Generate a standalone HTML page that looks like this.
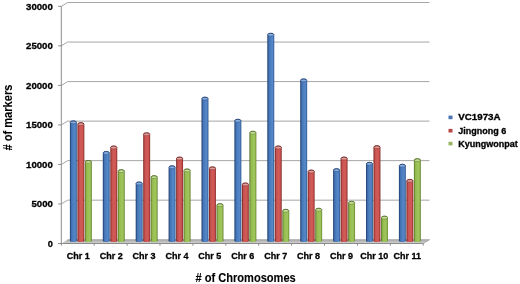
<!DOCTYPE html>
<html><head><meta charset="utf-8"><style>
html,body{margin:0;padding:0;background:#fff;}
body{width:520px;height:284px;overflow:hidden;}
svg{display:block;}
text{font-family:"Liberation Sans",Arial,sans-serif;font-weight:bold;fill:#000;stroke:#000;stroke-width:0.3px;}
.yl{font-size:9px;}
.xl{font-size:9px;}
.lg{font-size:9px;}
.tt{font-size:12px;stroke-width:0.1px;}
</style></head><body>
<svg width="520" height="284" viewBox="0 0 520 284">
<defs>
<linearGradient id="gB" x1="0" x2="1" y1="0" y2="0"><stop offset="0" stop-color="#1e3a66"/><stop offset="0.1" stop-color="#2a5088"/><stop offset="0.24" stop-color="#4474b4"/><stop offset="0.55" stop-color="#5083c4"/><stop offset="0.75" stop-color="#5687c8"/><stop offset="0.9" stop-color="#3f6ca9"/><stop offset="1" stop-color="#2c548c"/></linearGradient>
<linearGradient id="gR" x1="0" x2="1" y1="0" y2="0"><stop offset="0" stop-color="#6e2422"/><stop offset="0.1" stop-color="#983533"/><stop offset="0.24" stop-color="#c65250"/><stop offset="0.55" stop-color="#d25b58"/><stop offset="0.75" stop-color="#cd5653"/><stop offset="0.9" stop-color="#a63c39"/><stop offset="1" stop-color="#862f2d"/></linearGradient>
<linearGradient id="gG" x1="0" x2="1" y1="0" y2="0"><stop offset="0" stop-color="#4e6825"/><stop offset="0.1" stop-color="#729238"/><stop offset="0.24" stop-color="#93b950"/><stop offset="0.55" stop-color="#9dc458"/><stop offset="0.75" stop-color="#9dc55a"/><stop offset="0.9" stop-color="#80a240"/><stop offset="1" stop-color="#607c2e"/></linearGradient>
<linearGradient id="floor" x1="0" x2="0" y1="0" y2="1"><stop offset="0" stop-color="#a8a8a8"/><stop offset="1" stop-color="#d4d4d4"/></linearGradient>
</defs>
<polyline points="61.30,203.97 67.60,200.17 429.50,200.17" fill="none" stroke="#a6a6a6" stroke-width="1"/>
<polyline points="61.30,164.44 67.60,160.64 429.50,160.64" fill="none" stroke="#a6a6a6" stroke-width="1"/>
<polyline points="61.30,124.91 67.60,121.11 429.50,121.11" fill="none" stroke="#a6a6a6" stroke-width="1"/>
<polyline points="61.30,85.38 67.60,81.58 429.50,81.58" fill="none" stroke="#a6a6a6" stroke-width="1"/>
<polyline points="61.30,45.85 67.60,42.05 429.50,42.05" fill="none" stroke="#a6a6a6" stroke-width="1"/>
<polyline points="61.30,6.32 67.60,2.52 429.50,2.52" fill="none" stroke="#a6a6a6" stroke-width="1"/>
<polygon points="61.30,243.50 423.20,243.50 429.50,239.70 67.60,239.70" fill="url(#floor)"/>
<line x1="67.60" y1="239.70" x2="429.50" y2="239.70" stroke="#a0a0a0" stroke-width="0.8"/>
<line x1="61.30" y1="6.32" x2="61.30" y2="245.70" stroke="#8c8c8c" stroke-width="1"/>
<line x1="58.10" y1="243.50" x2="423.20" y2="243.50" stroke="#8c8c8c" stroke-width="1"/>
<line x1="423.20" y1="243.50" x2="429.50" y2="239.70" stroke="#a0a0a0" stroke-width="0.8"/>
<line x1="58.10" y1="243.50" x2="61.30" y2="243.50" stroke="#8c8c8c" stroke-width="1"/>
<line x1="58.10" y1="203.97" x2="61.30" y2="203.97" stroke="#8c8c8c" stroke-width="1"/>
<line x1="58.10" y1="164.44" x2="61.30" y2="164.44" stroke="#8c8c8c" stroke-width="1"/>
<line x1="58.10" y1="124.91" x2="61.30" y2="124.91" stroke="#8c8c8c" stroke-width="1"/>
<line x1="58.10" y1="85.38" x2="61.30" y2="85.38" stroke="#8c8c8c" stroke-width="1"/>
<line x1="58.10" y1="45.85" x2="61.30" y2="45.85" stroke="#8c8c8c" stroke-width="1"/>
<line x1="58.10" y1="6.32" x2="61.30" y2="6.32" stroke="#8c8c8c" stroke-width="1"/>
<line x1="94.20" y1="243.50" x2="94.20" y2="245.70" stroke="#8c8c8c" stroke-width="1"/>
<line x1="127.10" y1="243.50" x2="127.10" y2="245.70" stroke="#8c8c8c" stroke-width="1"/>
<line x1="160.00" y1="243.50" x2="160.00" y2="245.70" stroke="#8c8c8c" stroke-width="1"/>
<line x1="192.90" y1="243.50" x2="192.90" y2="245.70" stroke="#8c8c8c" stroke-width="1"/>
<line x1="225.80" y1="243.50" x2="225.80" y2="245.70" stroke="#8c8c8c" stroke-width="1"/>
<line x1="258.70" y1="243.50" x2="258.70" y2="245.70" stroke="#8c8c8c" stroke-width="1"/>
<line x1="291.60" y1="243.50" x2="291.60" y2="245.70" stroke="#8c8c8c" stroke-width="1"/>
<line x1="324.50" y1="243.50" x2="324.50" y2="245.70" stroke="#8c8c8c" stroke-width="1"/>
<line x1="357.40" y1="243.50" x2="357.40" y2="245.70" stroke="#8c8c8c" stroke-width="1"/>
<line x1="390.30" y1="243.50" x2="390.30" y2="245.70" stroke="#8c8c8c" stroke-width="1"/>
<line x1="423.20" y1="243.50" x2="423.20" y2="245.70" stroke="#8c8c8c" stroke-width="1"/>
<rect x="69.90" y="122.30" width="6.95" height="118.20" fill="url(#gB)"/>
<ellipse cx="73.37" cy="240.50" rx="3.48" ry="1.5" fill="url(#gB)"/>
<ellipse cx="73.37" cy="122.30" rx="3.08" ry="1.50" fill="#86aee2" stroke="#1e3c6c" stroke-width="0.55" stroke-opacity="0.8"/>
<path d="M70.30,122.30 A3.08,1.50 0 0 1 76.45,122.30" fill="none" stroke="#1e3c6c" stroke-width="0.8"/>
<rect x="77.40" y="124.10" width="6.95" height="116.40" fill="url(#gR)"/>
<ellipse cx="80.87" cy="240.50" rx="3.48" ry="1.5" fill="url(#gR)"/>
<ellipse cx="80.87" cy="124.10" rx="3.08" ry="1.50" fill="#e49a97" stroke="#6a2220" stroke-width="0.55" stroke-opacity="0.8"/>
<path d="M77.80,124.10 A3.08,1.50 0 0 1 83.95,124.10" fill="none" stroke="#6a2220" stroke-width="0.8"/>
<rect x="84.90" y="161.90" width="6.95" height="78.60" fill="url(#gG)"/>
<ellipse cx="88.37" cy="240.50" rx="3.48" ry="1.5" fill="url(#gG)"/>
<ellipse cx="88.37" cy="161.90" rx="3.08" ry="1.50" fill="#c4de96" stroke="#4e6a22" stroke-width="0.55" stroke-opacity="0.8"/>
<path d="M85.30,161.90 A3.08,1.50 0 0 1 91.45,161.90" fill="none" stroke="#4e6a22" stroke-width="0.8"/>
<rect x="102.80" y="152.90" width="6.95" height="87.60" fill="url(#gB)"/>
<ellipse cx="106.27" cy="240.50" rx="3.48" ry="1.5" fill="url(#gB)"/>
<ellipse cx="106.27" cy="152.90" rx="3.08" ry="1.50" fill="#86aee2" stroke="#1e3c6c" stroke-width="0.55" stroke-opacity="0.8"/>
<path d="M103.20,152.90 A3.08,1.50 0 0 1 109.35,152.90" fill="none" stroke="#1e3c6c" stroke-width="0.8"/>
<rect x="110.30" y="147.40" width="6.95" height="93.10" fill="url(#gR)"/>
<ellipse cx="113.77" cy="240.50" rx="3.48" ry="1.5" fill="url(#gR)"/>
<ellipse cx="113.77" cy="147.40" rx="3.08" ry="1.50" fill="#e49a97" stroke="#6a2220" stroke-width="0.55" stroke-opacity="0.8"/>
<path d="M110.70,147.40 A3.08,1.50 0 0 1 116.85,147.40" fill="none" stroke="#6a2220" stroke-width="0.8"/>
<rect x="117.80" y="171.10" width="6.95" height="69.40" fill="url(#gG)"/>
<ellipse cx="121.27" cy="240.50" rx="3.48" ry="1.5" fill="url(#gG)"/>
<ellipse cx="121.27" cy="171.10" rx="3.08" ry="1.50" fill="#c4de96" stroke="#4e6a22" stroke-width="0.55" stroke-opacity="0.8"/>
<path d="M118.20,171.10 A3.08,1.50 0 0 1 124.35,171.10" fill="none" stroke="#4e6a22" stroke-width="0.8"/>
<rect x="135.70" y="183.40" width="6.95" height="57.10" fill="url(#gB)"/>
<ellipse cx="139.17" cy="240.50" rx="3.48" ry="1.5" fill="url(#gB)"/>
<ellipse cx="139.17" cy="183.40" rx="3.08" ry="1.50" fill="#86aee2" stroke="#1e3c6c" stroke-width="0.55" stroke-opacity="0.8"/>
<path d="M136.10,183.40 A3.08,1.50 0 0 1 142.25,183.40" fill="none" stroke="#1e3c6c" stroke-width="0.8"/>
<rect x="143.20" y="134.20" width="6.95" height="106.30" fill="url(#gR)"/>
<ellipse cx="146.67" cy="240.50" rx="3.48" ry="1.5" fill="url(#gR)"/>
<ellipse cx="146.67" cy="134.20" rx="3.08" ry="1.50" fill="#e49a97" stroke="#6a2220" stroke-width="0.55" stroke-opacity="0.8"/>
<path d="M143.60,134.20 A3.08,1.50 0 0 1 149.75,134.20" fill="none" stroke="#6a2220" stroke-width="0.8"/>
<rect x="150.70" y="177.10" width="6.95" height="63.40" fill="url(#gG)"/>
<ellipse cx="154.17" cy="240.50" rx="3.48" ry="1.5" fill="url(#gG)"/>
<ellipse cx="154.17" cy="177.10" rx="3.08" ry="1.50" fill="#c4de96" stroke="#4e6a22" stroke-width="0.55" stroke-opacity="0.8"/>
<path d="M151.10,177.10 A3.08,1.50 0 0 1 157.25,177.10" fill="none" stroke="#4e6a22" stroke-width="0.8"/>
<rect x="168.60" y="167.20" width="6.95" height="73.30" fill="url(#gB)"/>
<ellipse cx="172.07" cy="240.50" rx="3.48" ry="1.5" fill="url(#gB)"/>
<ellipse cx="172.07" cy="167.20" rx="3.08" ry="1.50" fill="#86aee2" stroke="#1e3c6c" stroke-width="0.55" stroke-opacity="0.8"/>
<path d="M169.00,167.20 A3.08,1.50 0 0 1 175.15,167.20" fill="none" stroke="#1e3c6c" stroke-width="0.8"/>
<rect x="176.10" y="158.50" width="6.95" height="82.00" fill="url(#gR)"/>
<ellipse cx="179.57" cy="240.50" rx="3.48" ry="1.5" fill="url(#gR)"/>
<ellipse cx="179.57" cy="158.50" rx="3.08" ry="1.50" fill="#e49a97" stroke="#6a2220" stroke-width="0.55" stroke-opacity="0.8"/>
<path d="M176.50,158.50 A3.08,1.50 0 0 1 182.65,158.50" fill="none" stroke="#6a2220" stroke-width="0.8"/>
<rect x="183.60" y="170.40" width="6.95" height="70.10" fill="url(#gG)"/>
<ellipse cx="187.07" cy="240.50" rx="3.48" ry="1.5" fill="url(#gG)"/>
<ellipse cx="187.07" cy="170.40" rx="3.08" ry="1.50" fill="#c4de96" stroke="#4e6a22" stroke-width="0.55" stroke-opacity="0.8"/>
<path d="M184.00,170.40 A3.08,1.50 0 0 1 190.15,170.40" fill="none" stroke="#4e6a22" stroke-width="0.8"/>
<rect x="201.50" y="98.60" width="6.95" height="141.90" fill="url(#gB)"/>
<ellipse cx="204.97" cy="240.50" rx="3.48" ry="1.5" fill="url(#gB)"/>
<ellipse cx="204.97" cy="98.60" rx="3.08" ry="1.50" fill="#86aee2" stroke="#1e3c6c" stroke-width="0.55" stroke-opacity="0.8"/>
<path d="M201.90,98.60 A3.08,1.50 0 0 1 208.05,98.60" fill="none" stroke="#1e3c6c" stroke-width="0.8"/>
<rect x="209.00" y="168.30" width="6.95" height="72.20" fill="url(#gR)"/>
<ellipse cx="212.47" cy="240.50" rx="3.48" ry="1.5" fill="url(#gR)"/>
<ellipse cx="212.47" cy="168.30" rx="3.08" ry="1.50" fill="#e49a97" stroke="#6a2220" stroke-width="0.55" stroke-opacity="0.8"/>
<path d="M209.40,168.30 A3.08,1.50 0 0 1 215.55,168.30" fill="none" stroke="#6a2220" stroke-width="0.8"/>
<rect x="216.50" y="205.10" width="6.95" height="35.40" fill="url(#gG)"/>
<ellipse cx="219.97" cy="240.50" rx="3.48" ry="1.5" fill="url(#gG)"/>
<ellipse cx="219.97" cy="205.10" rx="3.08" ry="1.50" fill="#c4de96" stroke="#4e6a22" stroke-width="0.55" stroke-opacity="0.8"/>
<path d="M216.90,205.10 A3.08,1.50 0 0 1 223.05,205.10" fill="none" stroke="#4e6a22" stroke-width="0.8"/>
<rect x="234.40" y="120.70" width="6.95" height="119.80" fill="url(#gB)"/>
<ellipse cx="237.88" cy="240.50" rx="3.48" ry="1.5" fill="url(#gB)"/>
<ellipse cx="237.88" cy="120.70" rx="3.08" ry="1.50" fill="#86aee2" stroke="#1e3c6c" stroke-width="0.55" stroke-opacity="0.8"/>
<path d="M234.80,120.70 A3.08,1.50 0 0 1 240.95,120.70" fill="none" stroke="#1e3c6c" stroke-width="0.8"/>
<rect x="241.90" y="184.40" width="6.95" height="56.10" fill="url(#gR)"/>
<ellipse cx="245.38" cy="240.50" rx="3.48" ry="1.5" fill="url(#gR)"/>
<ellipse cx="245.38" cy="184.40" rx="3.08" ry="1.50" fill="#e49a97" stroke="#6a2220" stroke-width="0.55" stroke-opacity="0.8"/>
<path d="M242.30,184.40 A3.08,1.50 0 0 1 248.45,184.40" fill="none" stroke="#6a2220" stroke-width="0.8"/>
<rect x="249.40" y="132.70" width="6.95" height="107.80" fill="url(#gG)"/>
<ellipse cx="252.88" cy="240.50" rx="3.48" ry="1.5" fill="url(#gG)"/>
<ellipse cx="252.88" cy="132.70" rx="3.08" ry="1.50" fill="#c4de96" stroke="#4e6a22" stroke-width="0.55" stroke-opacity="0.8"/>
<path d="M249.80,132.70 A3.08,1.50 0 0 1 255.95,132.70" fill="none" stroke="#4e6a22" stroke-width="0.8"/>
<rect x="267.30" y="34.70" width="6.95" height="205.80" fill="url(#gB)"/>
<ellipse cx="270.78" cy="240.50" rx="3.48" ry="1.5" fill="url(#gB)"/>
<ellipse cx="270.78" cy="34.70" rx="3.08" ry="1.50" fill="#86aee2" stroke="#1e3c6c" stroke-width="0.55" stroke-opacity="0.8"/>
<path d="M267.70,34.70 A3.08,1.50 0 0 1 273.85,34.70" fill="none" stroke="#1e3c6c" stroke-width="0.8"/>
<rect x="274.80" y="147.40" width="6.95" height="93.10" fill="url(#gR)"/>
<ellipse cx="278.28" cy="240.50" rx="3.48" ry="1.5" fill="url(#gR)"/>
<ellipse cx="278.28" cy="147.40" rx="3.08" ry="1.50" fill="#e49a97" stroke="#6a2220" stroke-width="0.55" stroke-opacity="0.8"/>
<path d="M275.20,147.40 A3.08,1.50 0 0 1 281.35,147.40" fill="none" stroke="#6a2220" stroke-width="0.8"/>
<rect x="282.30" y="210.80" width="6.95" height="29.70" fill="url(#gG)"/>
<ellipse cx="285.78" cy="240.50" rx="3.48" ry="1.5" fill="url(#gG)"/>
<ellipse cx="285.78" cy="210.80" rx="3.08" ry="1.50" fill="#c4de96" stroke="#4e6a22" stroke-width="0.55" stroke-opacity="0.8"/>
<path d="M282.70,210.80 A3.08,1.50 0 0 1 288.85,210.80" fill="none" stroke="#4e6a22" stroke-width="0.8"/>
<rect x="300.20" y="80.30" width="6.95" height="160.20" fill="url(#gB)"/>
<ellipse cx="303.68" cy="240.50" rx="3.48" ry="1.5" fill="url(#gB)"/>
<ellipse cx="303.68" cy="80.30" rx="3.08" ry="1.50" fill="#86aee2" stroke="#1e3c6c" stroke-width="0.55" stroke-opacity="0.8"/>
<path d="M300.60,80.30 A3.08,1.50 0 0 1 306.75,80.30" fill="none" stroke="#1e3c6c" stroke-width="0.8"/>
<rect x="307.70" y="171.50" width="6.95" height="69.00" fill="url(#gR)"/>
<ellipse cx="311.18" cy="240.50" rx="3.48" ry="1.5" fill="url(#gR)"/>
<ellipse cx="311.18" cy="171.50" rx="3.08" ry="1.50" fill="#e49a97" stroke="#6a2220" stroke-width="0.55" stroke-opacity="0.8"/>
<path d="M308.10,171.50 A3.08,1.50 0 0 1 314.25,171.50" fill="none" stroke="#6a2220" stroke-width="0.8"/>
<rect x="315.20" y="209.70" width="6.95" height="30.80" fill="url(#gG)"/>
<ellipse cx="318.68" cy="240.50" rx="3.48" ry="1.5" fill="url(#gG)"/>
<ellipse cx="318.68" cy="209.70" rx="3.08" ry="1.50" fill="#c4de96" stroke="#4e6a22" stroke-width="0.55" stroke-opacity="0.8"/>
<path d="M315.60,209.70 A3.08,1.50 0 0 1 321.75,209.70" fill="none" stroke="#4e6a22" stroke-width="0.8"/>
<rect x="333.10" y="170.10" width="6.95" height="70.40" fill="url(#gB)"/>
<ellipse cx="336.58" cy="240.50" rx="3.48" ry="1.5" fill="url(#gB)"/>
<ellipse cx="336.58" cy="170.10" rx="3.08" ry="1.50" fill="#86aee2" stroke="#1e3c6c" stroke-width="0.55" stroke-opacity="0.8"/>
<path d="M333.50,170.10 A3.08,1.50 0 0 1 339.65,170.10" fill="none" stroke="#1e3c6c" stroke-width="0.8"/>
<rect x="340.60" y="158.50" width="6.95" height="82.00" fill="url(#gR)"/>
<ellipse cx="344.08" cy="240.50" rx="3.48" ry="1.5" fill="url(#gR)"/>
<ellipse cx="344.08" cy="158.50" rx="3.08" ry="1.50" fill="#e49a97" stroke="#6a2220" stroke-width="0.55" stroke-opacity="0.8"/>
<path d="M341.00,158.50 A3.08,1.50 0 0 1 347.15,158.50" fill="none" stroke="#6a2220" stroke-width="0.8"/>
<rect x="348.10" y="202.80" width="6.95" height="37.70" fill="url(#gG)"/>
<ellipse cx="351.58" cy="240.50" rx="3.48" ry="1.5" fill="url(#gG)"/>
<ellipse cx="351.58" cy="202.80" rx="3.08" ry="1.50" fill="#c4de96" stroke="#4e6a22" stroke-width="0.55" stroke-opacity="0.8"/>
<path d="M348.50,202.80 A3.08,1.50 0 0 1 354.65,202.80" fill="none" stroke="#4e6a22" stroke-width="0.8"/>
<rect x="366.00" y="163.80" width="6.95" height="76.70" fill="url(#gB)"/>
<ellipse cx="369.48" cy="240.50" rx="3.48" ry="1.5" fill="url(#gB)"/>
<ellipse cx="369.48" cy="163.80" rx="3.08" ry="1.50" fill="#86aee2" stroke="#1e3c6c" stroke-width="0.55" stroke-opacity="0.8"/>
<path d="M366.40,163.80 A3.08,1.50 0 0 1 372.55,163.80" fill="none" stroke="#1e3c6c" stroke-width="0.8"/>
<rect x="373.50" y="147.10" width="6.95" height="93.40" fill="url(#gR)"/>
<ellipse cx="376.98" cy="240.50" rx="3.48" ry="1.5" fill="url(#gR)"/>
<ellipse cx="376.98" cy="147.10" rx="3.08" ry="1.50" fill="#e49a97" stroke="#6a2220" stroke-width="0.55" stroke-opacity="0.8"/>
<path d="M373.90,147.10 A3.08,1.50 0 0 1 380.05,147.10" fill="none" stroke="#6a2220" stroke-width="0.8"/>
<rect x="381.00" y="217.60" width="6.95" height="22.90" fill="url(#gG)"/>
<ellipse cx="384.48" cy="240.50" rx="3.48" ry="1.5" fill="url(#gG)"/>
<ellipse cx="384.48" cy="217.60" rx="3.08" ry="1.50" fill="#c4de96" stroke="#4e6a22" stroke-width="0.55" stroke-opacity="0.8"/>
<path d="M381.40,217.60 A3.08,1.50 0 0 1 387.55,217.60" fill="none" stroke="#4e6a22" stroke-width="0.8"/>
<rect x="398.90" y="165.70" width="6.95" height="74.80" fill="url(#gB)"/>
<ellipse cx="402.38" cy="240.50" rx="3.48" ry="1.5" fill="url(#gB)"/>
<ellipse cx="402.38" cy="165.70" rx="3.08" ry="1.50" fill="#86aee2" stroke="#1e3c6c" stroke-width="0.55" stroke-opacity="0.8"/>
<path d="M399.30,165.70 A3.08,1.50 0 0 1 405.45,165.70" fill="none" stroke="#1e3c6c" stroke-width="0.8"/>
<rect x="406.40" y="180.80" width="6.95" height="59.70" fill="url(#gR)"/>
<ellipse cx="409.88" cy="240.50" rx="3.48" ry="1.5" fill="url(#gR)"/>
<ellipse cx="409.88" cy="180.80" rx="3.08" ry="1.50" fill="#e49a97" stroke="#6a2220" stroke-width="0.55" stroke-opacity="0.8"/>
<path d="M406.80,180.80 A3.08,1.50 0 0 1 412.95,180.80" fill="none" stroke="#6a2220" stroke-width="0.8"/>
<rect x="413.90" y="160.10" width="6.95" height="80.40" fill="url(#gG)"/>
<ellipse cx="417.38" cy="240.50" rx="3.48" ry="1.5" fill="url(#gG)"/>
<ellipse cx="417.38" cy="160.10" rx="3.08" ry="1.50" fill="#c4de96" stroke="#4e6a22" stroke-width="0.55" stroke-opacity="0.8"/>
<path d="M414.30,160.10 A3.08,1.50 0 0 1 420.45,160.10" fill="none" stroke="#4e6a22" stroke-width="0.8"/>
<text x="47.73" y="246.70" textLength="5.12" lengthAdjust="spacingAndGlyphs" class="yl">0</text><text x="31.47" y="207.17" textLength="21.38" lengthAdjust="spacingAndGlyphs" class="yl">5000</text><text x="26.05" y="167.64" textLength="26.80" lengthAdjust="spacingAndGlyphs" class="yl">10000</text><text x="26.05" y="128.11" textLength="26.80" lengthAdjust="spacingAndGlyphs" class="yl">15000</text><text x="26.05" y="88.58" textLength="26.80" lengthAdjust="spacingAndGlyphs" class="yl">20000</text><text x="26.05" y="49.05" textLength="26.80" lengthAdjust="spacingAndGlyphs" class="yl">25000</text><text x="26.05" y="9.52" textLength="26.80" lengthAdjust="spacingAndGlyphs" class="yl">30000</text>
<text x="78.25" y="258.9" text-anchor="middle" class="xl">Chr 1</text><text x="111.15" y="258.9" text-anchor="middle" class="xl">Chr 2</text><text x="144.05" y="258.9" text-anchor="middle" class="xl">Chr 3</text><text x="176.95" y="258.9" text-anchor="middle" class="xl">Chr 4</text><text x="209.85" y="258.9" text-anchor="middle" class="xl">Chr 5</text><text x="242.75" y="258.9" text-anchor="middle" class="xl">Chr 6</text><text x="275.65" y="258.9" text-anchor="middle" class="xl">Chr 7</text><text x="308.55" y="258.9" text-anchor="middle" class="xl">Chr 8</text><text x="341.45" y="258.9" text-anchor="middle" class="xl">Chr 9</text><text x="374.35" y="258.9" text-anchor="middle" class="xl">Chr 10</text><text x="407.25" y="258.9" text-anchor="middle" class="xl">Chr 11</text>
<text class="tt" x="195.4" y="282.1" textLength="100.4" lengthAdjust="spacingAndGlyphs"># of Chromosomes</text>
<text class="tt" transform="translate(12,150.6) rotate(-90)" textLength="66" lengthAdjust="spacingAndGlyphs"># of markers</text>
<rect x="448.5" y="115.6" width="4" height="3.6" fill="#4a72b2"/>
<rect x="448.5" y="128.9" width="4" height="3.6" fill="#b84643"/>
<rect x="448.5" y="141.8" width="4" height="3.6" fill="#98b464"/>
<text class="lg" x="458.2" y="120.3" textLength="42.4" lengthAdjust="spacingAndGlyphs">VC1973A</text>
<text class="lg" x="458.2" y="133.9">Jingnong 6</text>
<text class="lg" x="458.2" y="147.1">Kyungwonpat</text>
</svg>
</body></html>
